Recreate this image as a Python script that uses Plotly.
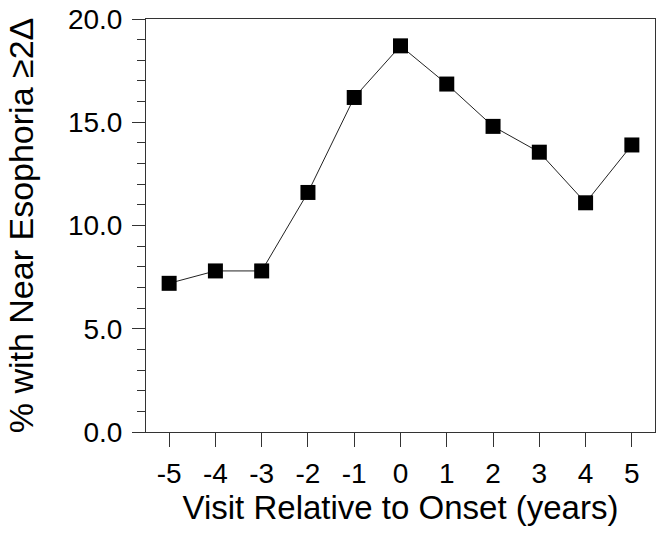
import plotly.graph_objects as go

# visit relative to onset (years) and % with near esophoria >= 2 prism dioptres
visit = [-5, -4, -3, -2, -1, 0, 1, 2, 3, 4, 5]
visit_text = ["-5", "-4", "-3", "-2", "-1", "0", "1", "2", "3", "4", "5"]
pct_esophoria = [7.2, 7.8, 7.8, 11.6, 16.2, 18.7, 16.85, 14.8, 13.55, 11.1, 13.9]

y_ticks = [0, 5, 10, 15, 20]
y_tick_text = ["0.0", "5.0", "10.0", "15.0", "20.0"]

fig = go.Figure()
fig.add_trace(go.Scatter(
    x=visit, y=pct_esophoria,
    mode="lines+markers",
    line=dict(color="#222222", width=1),
    marker=dict(symbol="square", size=15, color="black"),
    showlegend=False,
))

font = "Liberation Sans, Arial, sans-serif"
fig.update_layout(
    width=658, height=533,
    margin=dict(l=146, r=3, t=19, b=101),
    plot_bgcolor="white", paper_bgcolor="white",
    font=dict(family=font, color="black"),
)
fig.update_xaxes(
    range=[-5.5, 5.5], automargin=False,
    tickvals=visit, ticktext=visit_text,
    ticks="outside", ticklen=14, tickcolor="#333333", tickwidth=1,
    tickfont=dict(size=28), ticklabelstandoff=2,
    showline=True, linecolor="#333333", linewidth=1, mirror=True,
    showgrid=False, zeroline=False,
    title=dict(text="Visit Relative to Onset (years)", font=dict(size=33), standoff=8),
)
fig.update_yaxes(
    range=[0, 20], automargin=False,
    tickvals=y_ticks, ticktext=y_tick_text,
    ticks="outside", ticklen=13, tickcolor="#333333", tickwidth=1,
    minor=dict(dtick=1, ticks="outside", ticklen=8, tickcolor="#333333", showgrid=False),
    tickfont=dict(size=28), ticklabelstandoff=4,
    showline=True, linecolor="#333333", linewidth=1, mirror=True,
    showgrid=False, zeroline=False,
    title=dict(text="% with Near Esophoria ≥2Δ", font=dict(size=34), standoff=24),
)

# page margin off so the figure sits at the window's corner
fig.write_html("out.html", config={"displayModeBar": False},
               post_script="document.body.style.margin = '0';")
